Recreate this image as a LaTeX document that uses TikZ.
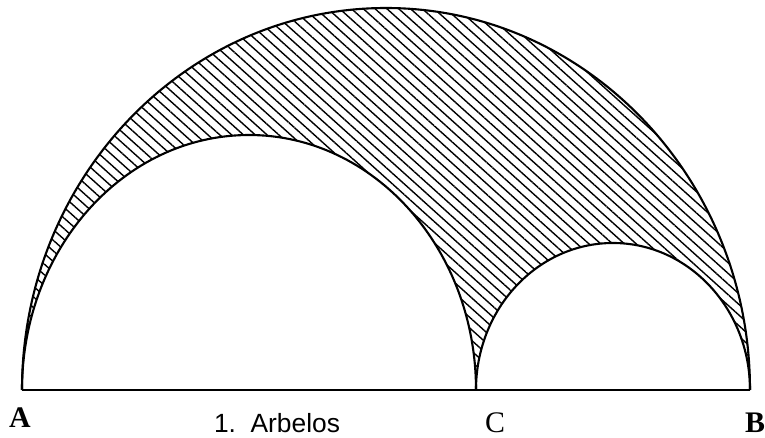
\documentclass[tikz,border=0pt]{standalone}
\usepackage{fontspec}
\setmainfont{Liberation Serif}
\newfontfamily\capfont{Liberation Sans}
\usetikzlibrary{patterns.meta}

\begin{document}
\begin{tikzpicture}[
  x=0.02cm, y=0.02cm,
  arcline/.style={line width=1.2pt,black},
  base/.style={line width=1.7pt,black},
  hatch/.style={pattern={Lines[angle=-42,distance=4.5pt,line width=0.8pt]}},
  pnt/.style={font=\fontsize{17}{17}\selectfont,inner sep=0pt},
  caption/.style={font=\capfont\fontsize{15}{15}\selectfont,inner sep=0pt},
]
\useasboundingbox (0,-47) rectangle (765,390);

\coordinate (A) at (22,0);
\coordinate (C) at (476,0);
\coordinate (B) at (750,0);

% hatched region: the big arc minus the two small ones
\fill[hatch] (A) arc[start angle=180,end angle=0,x radius=364,y radius=382]
  arc[start angle=0,end angle=180,x radius=137,y radius=147]
  arc[start angle=0,end angle=180,x radius=227,y radius=255] -- cycle;

% the three arcs and the base line
\draw[arcline] (A) arc[start angle=180,end angle=0,x radius=364,y radius=382];
\draw[arcline] (A) arc[start angle=180,end angle=0,x radius=227,y radius=255];
\draw[arcline] (C) arc[start angle=180,end angle=0,x radius=137,y radius=147];
\draw[base] (A) -- (B);

\node[pnt] (lblA) at (20,-28) {\textbf{A}};
\node[pnt] (lblC) at (495,-33) {C};
\node[pnt] (lblB) at (755,-33) {\textbf{B}};
\node[caption] (title) at (277,-33) {1.\ \ Arbelos};
\end{tikzpicture}
\end{document}
